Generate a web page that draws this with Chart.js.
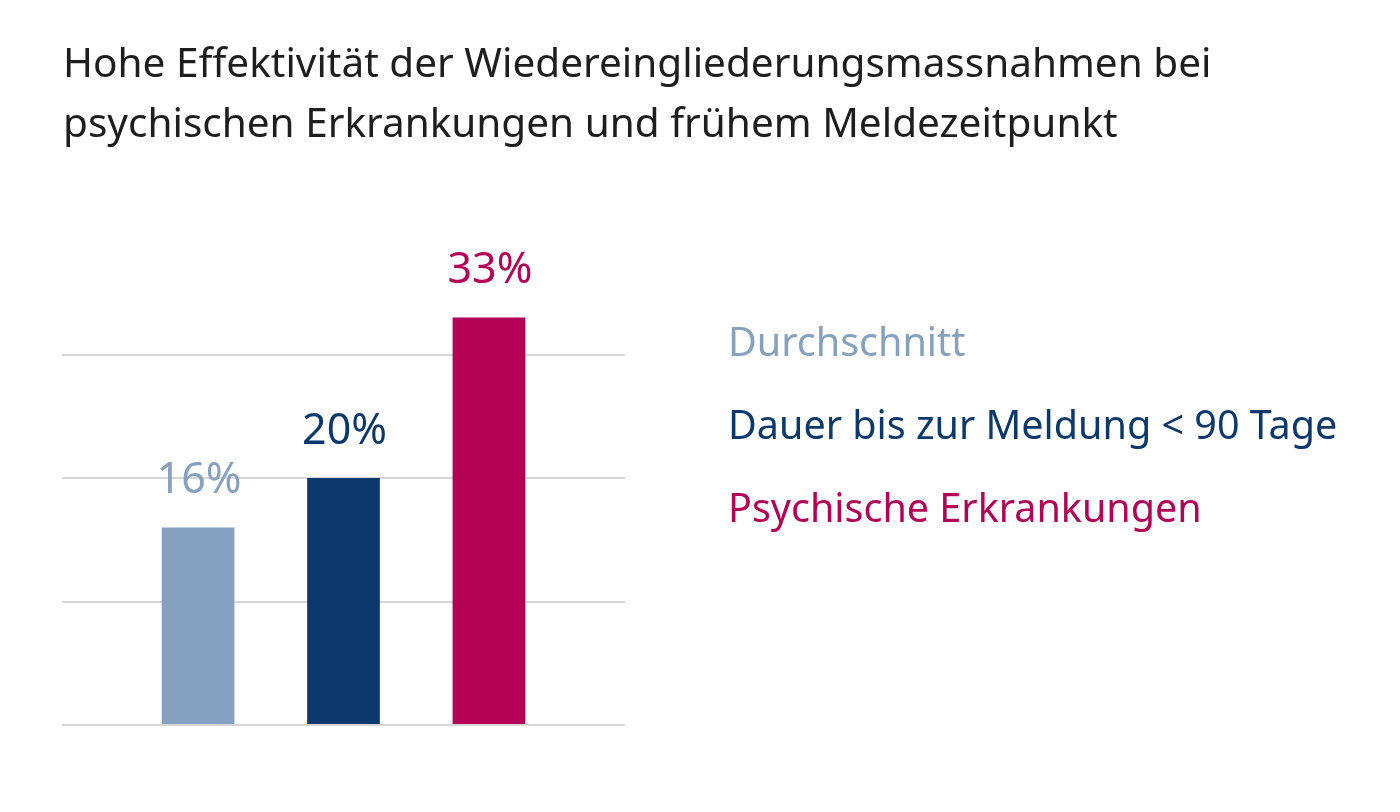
<!DOCTYPE html>
<html lang="de">
<head>
  <meta charset="UTF-8">
  <title>Wiedereingliederung</title>
  <script src="https://cdn.jsdelivr.net/npm/chart.js"></script>
  <style>
    html, body { margin: 0; padding: 0; background: #fff; }
    #wrap { width: 1400px; height: 812px; }
  </style>
</head>
<body>
  <div id="wrap"><canvas id="chart"></canvas></div>

  <script>
    // Daten
    const titleLines = ['Hohe Effektivität der Wiedereingliederungsmassnahmen bei',
                        'psychischen Erkrankungen und frühem Meldezeitpunkt'];
    const seriesNames = ['Durchschnitt', 'Dauer bis zur Meldung < 90 Tage', 'Psychische Erkrankungen'];
    const seriesValues = [16, 20, 33];
    const seriesColors = ['#86a1bf', '#0b396e', '#b40357'];

    const FONT = '"Noto Sans", Lato, sans-serif';

    // Titel oben links, volle Breite (das Chart.js-Titel-Plugin würde ihn auf die Plotbreite stauchen)
    const wideTitle = {
      id: 'wideTitle',
      afterDraw(chart) {
        const c = chart.ctx;
        c.save();
        c.font = '40.5px ' + FONT;
        c.fillStyle = '#1e1e1e';
        c.textAlign = 'left';
        c.textBaseline = 'alphabetic';
        titleLines.forEach((t, i) => c.fillText(t, 63, 77 + i * 60));
        c.restore();
      }
    };

    // Prozentwerte über den Balken
    const valueLabels = {
      id: 'valueLabels',
      afterDatasetsDraw(chart) {
        const c = chart.ctx;
        c.save();
        c.font = '43px ' + FONT;
        c.textAlign = 'center';
        c.textBaseline = 'alphabetic';
        chart.data.datasets.forEach((ds, i) => {
          const bar = chart.getDatasetMeta(i).data[0];
          c.fillStyle = ds.backgroundColor;
          c.fillText(ds.data[0] + '%', bar.x + 1, bar.y - 34);
        });
        c.restore();
      }
    };

    // Legende rechts als farbiger Text
    const textLegend = {
      id: 'textLegend',
      afterDraw(chart) {
        const c = chart.ctx;
        const a = chart.chartArea;
        c.save();
        c.font = '39.5px ' + FONT;
        c.textAlign = 'left';
        c.textBaseline = 'alphabetic';
        chart.data.datasets.forEach((ds, i) => {
          c.fillStyle = ds.backgroundColor;
          c.fillText(ds.label, a.right + 103, a.top + 125 + i * 83);
        });
        c.restore();
      }
    };

    new Chart(document.getElementById('chart'), {
      type: 'bar',
      data: {
        labels: [''],
        datasets: seriesNames.map((name, i) => ({
          label: name,
          data: [seriesValues[i]],
          backgroundColor: seriesColors[i],
          categoryPercentage: 0.775,
          barPercentage: 0.5
        }))
      },
      options: {
        responsive: true,
        maintainAspectRatio: false,
        animation: false,
        layout: { padding: { left: 62, right: 775, top: 231, bottom: 87 } },
        plugins: {
          legend: { display: false },
          tooltip: { enabled: false },
          title: { display: false }
        },
        scales: {
          x: { display: false },
          y: {
            min: 0,
            max: 40,
            ticks: { display: false, stepSize: 10 },
            border: { display: false },
            grid: {
              lineWidth: 2,
              drawTicks: false,
              color: ctx => ctx.tick && ctx.tick.value === 40 ? 'rgba(0,0,0,0)' : '#d6d6d6'
            }
          }
        }
      },
      plugins: [wideTitle, valueLabels, textLegend]
    });
  </script>
</body>
</html>
